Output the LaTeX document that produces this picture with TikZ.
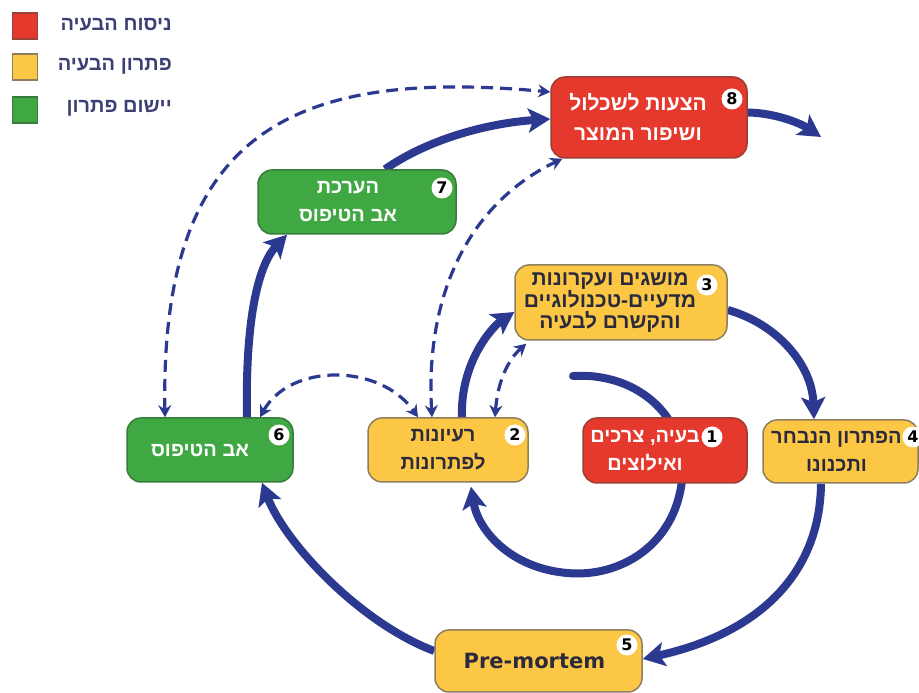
\documentclass[tikz,border=0pt]{standalone}
\usepackage{fontspec}
\setmainfont{Liberation Sans}
\newfontfamily\heb[Script=Hebrew]{Liberation Sans}
\newfontfamily\dejav{DejaVu Sans}
\TeXXeTstate=1
\usetikzlibrary{arrows.meta,calc,backgrounds}
\definecolor{navy}{HTML}{2B3990}
\definecolor{boxred}{HTML}{E5392D}
\definecolor{boxyel}{HTML}{FDC746}
\definecolor{boxgrn}{HTML}{40A843}
\definecolor{bdred}{HTML}{9A4038}
\definecolor{bdyel}{HTML}{8E7E5E}
\definecolor{bdgrn}{HTML}{3A7A3C}
\definecolor{darktxt}{HTML}{2A2A3C}
\definecolor{legtxt}{HTML}{3B3F74}
\tikzset{
  box/.style={rounded corners=14pt, line width=1.5pt, inner sep=0pt},
  redbox/.style={box, fill=boxred, draw=bdred},
  yelbox/.style={box, fill=boxyel, draw=bdyel},
  grnbox/.style={box, fill=boxgrn, draw=bdgrn},
  wtxt/.style={text=white, font=\heb\bfseries\fontsize{20}{28}\selectfont, align=center, inner sep=0pt},
  dtxt/.style={text=darktxt, font=\heb\bfseries\fontsize{20}{28}\selectfont, align=center, inner sep=0pt},
  numc/.style={circle, fill=white, inner sep=0pt, minimum size=21pt, font=\dejav\bfseries\fontsize{16}{16}\selectfont, text=black},
  legsq/.style={minimum width=25pt, minimum height=26pt, inner sep=0pt, line width=1.5pt},
  legt/.style={anchor=east, text=legtxt, font=\heb\bfseries\fontsize{20}{20}\selectfont, inner sep=0pt},
  solidarrow/.style={draw=navy, line width=8pt, -{Stealth[length=22pt,width=24pt,inset=5pt]}},
  dasharrow/.style={draw=navy, line width=3.2pt, dash pattern=on 12pt off 7pt, {Stealth[length=12pt,width=13pt]}-{Stealth[length=12pt,width=13pt]}}
}
\begin{document}
\begin{tikzpicture}[x=1pt,y=1pt]
\useasboundingbox (0,0) rectangle (919,693);
% legend
\node[legsq, fill=boxred, draw=bdred] (lr) at (25,667) {};
\node[legsq, fill=boxyel, draw=bdyel] (ly) at (25,626) {};
\node[legsq, fill=boxgrn, draw=bdgrn] (lg) at (25,583) {};
\node[legt] (lrt) at (172,668) {\beginR ניסוח הבעיה\endR};
\node[legt] (lyt) at (172,627) {\beginR פתרון הבעיה\endR};
\node[legt] (lgt) at (172,585) {\beginR יישום פתרון\endR};
% boxes
\node[redbox, minimum width=196pt, minimum height=81pt] (n8) at (649,575.5) {};
\node[grnbox, minimum width=198pt, minimum height=64pt] (n7) at (357,491) {};
\node[yelbox, minimum width=212pt, minimum height=75pt] (n3) at (621,390.5) {};
\node[grnbox, minimum width=166pt, minimum height=64pt] (n6) at (210,243) {};
\node[yelbox, minimum width=160pt, minimum height=64pt] (n2) at (448,243) {};
\node[redbox, minimum width=164pt, minimum height=65pt] (n1) at (665,242.5) {};
\node[yelbox, minimum width=155pt, minimum height=63pt] (n4) at (840.5,241.5) {};
\node[yelbox, minimum width=207pt, minimum height=62pt] (n5) at (538.5,32) {};
% texts
\node[wtxt, font=\heb\bfseries\fontsize{21}{30}\selectfont] (t8) at ([xshift=-11pt]n8.center) {\beginR הצעות לשכלול\endR\\\beginR ושיפור המוצר\endR};
\node[wtxt] (t7) at ([xshift=-9pt]n7.center) {\beginR הערכת\endR\\\beginR אב הטיפוס\endR};
\node[dtxt, font=\heb\bfseries\fontsize{21}{20.5}\selectfont] (t3) at ([xshift=-11pt]n3.center) {\beginR מושגים ועקרונות\endR\\\beginR מדעיים-טכנולוגיים\endR\\\beginR והקשרם לבעיה\endR};
\node[wtxt] (t6) at ([xshift=-10pt]n6.center) {\beginR אב הטיפוס\endR};
\node[dtxt] (t2) at ([xshift=-5pt]n2.center) {\beginR רעיונות\endR\\\beginR לפתרונות\endR};
\node[wtxt] (t1) at ([xshift=-20pt]n1.center) {\beginR בעיה, צרכים\endR\\\beginR ואילוצים\endR};
\node[dtxt] (t4) at ([xshift=-4pt]n4.center) {\beginR הפתרון הנבחר\endR\\\beginR ותכנונו\endR};
\node[dtxt, font=\dejav\bfseries\fontsize{21}{21}\selectfont] (t5) at ([xshift=-4pt]n5.center) {Pre-mortem};
% number circles
\node[numc] (c8) at (732,594) {8};
\node[numc] (c7) at (442,505) {7};
\node[numc] (c3) at (707,408) {3};
\node[numc] (c6) at (279,258) {6};
\node[numc] (c2) at (515,258) {2};
\node[numc] (c1) at (712,256) {1};
\node[numc] (c4) at (913,256) {4};
\node[numc] (c5) at (627,48) {5};
\coordinate (spst) at (573,317);
\coordinate (outend) at (821,556);
\begin{scope}[on background layer]
% solid arrows
\draw[solidarrow, line cap=round] (spst) .. controls (640,321) and (690,273) .. (682,213)
   .. controls (675,148) and (620,115) .. (567,120)
   .. controls (510,125) and (478,163) .. ([xshift=23pt,yshift=-4pt]n2.south);
\draw[solidarrow] ([xshift=14pt]n2.north) .. controls (460,330) and (492,366) .. ([yshift=-9.5pt]n3.west);
\draw[solidarrow] ([yshift=-7.5pt]n3.east) .. controls (775,370) and (812,330) .. ([xshift=-26.5pt]n4.north);
\draw[solidarrow] ([xshift=-19.5pt]n4.south) .. controls (820,120) and (760,60) .. ([yshift=2pt]n5.east);
\draw[solidarrow] ([yshift=10pt]n5.west) .. controls (360,70) and (285,150) .. ([xshift=52pt]n6.south);
\draw[solidarrow] ([xshift=37pt]n6.north) .. controls (245,380) and (260,430) .. ([xshift=-70pt]n7.south);
\draw[solidarrow] ([xshift=28pt]n7.north) .. controls (430,555) and (490,570) .. ([yshift=-1.5pt]n8.west);
\draw[solidarrow] ([yshift=5pt]n8.east) .. controls (775,580) and (800,570) .. (outend);
% dashed arrows
\draw[dasharrow] ([xshift=-45pt]n6.north) .. controls (160,560) and (290,625) .. ([yshift=25.5pt]n8.west);
\draw[dasharrow] ([xshift=50pt]n6.north) .. controls (290,330) and (380,330) .. ([xshift=-30pt]n2.north);
\draw[dasharrow] ([xshift=-16pt]n2.north) .. controls (425,400) and (470,490) .. ([xshift=12pt]n8.south west);
\draw[dasharrow] ([xshift=47pt]n2.north) .. controls (498,315) and (510,335) .. ([xshift=12pt,yshift=-3pt]n3.south west);
\end{scope}
\end{tikzpicture}
\end{document}
